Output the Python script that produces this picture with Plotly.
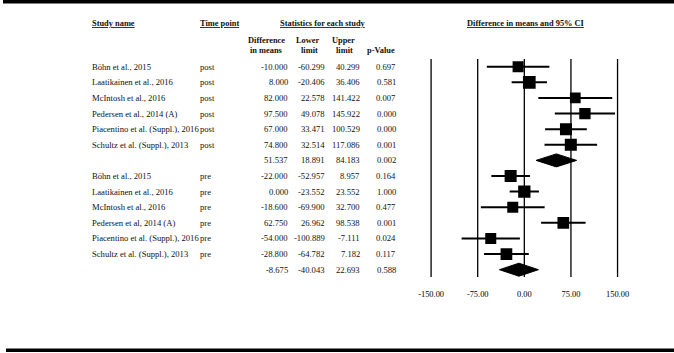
import plotly.graph_objects as go

# ---------------- data ----------------
post_names = ["Böhn et al., 2015", "Laatikainen et al., 2016", "McIntosh et al., 2016",
              "Pedersen et al., 2014 (A)", "Piacentino et al. (Suppl.), 2016",
              "Schultz et al. (Suppl.), 2013"]
post_diff = [-10.000, 8.000, 82.000, 97.500, 67.000, 74.800]
post_lower = [-60.299, -20.406, 22.578, 49.078, 33.471, 32.514]
post_upper = [40.299, 36.406, 141.422, 145.922, 100.529, 117.086]
post_p = [0.697, 0.581, 0.007, 0.000, 0.000, 0.001]
post_summary = [51.537, 18.891, 84.183, 0.002]  # diff, lower, upper, p

pre_names = ["Böhn et al., 2015", "Laatikainen et al., 2016", "McIntosh et al., 2016",
             "Pedersen et al, 2014 (A)", "Piacentino et al. (Suppl.), 2016",
             "Schultz et al. (Suppl.), 2013"]
pre_diff = [-22.000, 0.000, -18.600, 62.750, -54.000, -28.800]
pre_lower = [-52.957, -23.552, -69.900, 26.962, -100.889, -64.782]
pre_upper = [8.957, 23.552, 32.700, 98.538, -7.111, 7.182]
pre_p = [0.164, 1.000, 0.477, 0.001, 0.024, 0.117]
pre_summary = [-8.675, -40.043, 22.693, 0.588]

tick_vals = [-150, -75, 0, 75, 150]
tick_labels = ["-150.00", "-75.00", "0.00", "75.00", "150.00"]

# ---------------- style ----------------
W, H = 674, 353
post_sizes = [11, 12.7, 10.7, 11.3, 12, 12]
pre_sizes = [12, 12.3, 11, 11.7, 11, 11.7]
SERIF = "Liberation Serif, Times New Roman, serif"
FS = 8.6
HFS = 8.4

# pixel anchors for layout
row0_px, row_step = 66.7, 15.615
y_top = -row0_px / row_step
y_bot = y_top + H / row_step
k = (617.3 - 430.0) / 300.0  # px per unit
dom_l, dom_r = 420.0, 630.0
x_lo = -150 - (430.0 - dom_l) / k
x_hi = 150 + (dom_r - 617.3) / k

def px(x):
    return x / W

def py(y):
    return 1 - y / H

fig = go.Figure()

# rows
rows = []
for i in range(len(post_names)):
    rows.append((post_names[i], "post", post_diff[i], post_lower[i], post_upper[i], post_p[i]))
rows.append(("", "", *post_summary))
for i in range(len(pre_names)):
    rows.append((pre_names[i], "pre", pre_diff[i], pre_lower[i], pre_upper[i], pre_p[i]))
rows.append(("", "", *pre_summary))

annotations = []
def ann(text, x, y, xanchor, yref="y", size=FS):
    annotations.append(dict(
        text=text, x=x, y=y, xref="paper", yref=yref, xanchor=xanchor, yanchor="middle",
        showarrow=False, borderpad=0, borderwidth=0,
        font=dict(family=SERIF, size=size, color="#111")))

for r, (name, tp, d, lo, up, p) in enumerate(rows):
    if name:
        ann(name, px(89), r, "left")
        ann(tp, px(198), r, "left")
    ann(f"{d:.3f}", px(286.5), r, "right")
    ann(f"{lo:.3f}", px(323), r, "right")
    ann(f"{up:.3f}", px(358.5), r, "right")
    ann(f"{p:.3f}", px(394.5), r, "right")

# headers
ann("<b><u>Study name</u></b>", px(89), py(23.3), "left", "paper", HFS)
ann("<b><u>Time point</u></b>", px(198), py(23.3), "left", "paper", HFS)
ann("<b><u>Statistics for each study</u></b>", px(278), py(23.6), "left", "paper", HFS)
ann("<b><u>Difference in means and 95% CI</u></b>", px(466), py(23.3), "left", "paper", HFS)
ann("<b>Difference</b>", px(264.5), py(40.7), "center", "paper", HFS)
ann("<b>in means</b>", px(264.5), py(50.2), "center", "paper", HFS)
ann("<b>Lower</b>", px(306.5), py(40.7), "center", "paper", HFS)
ann("<b>limit</b>", px(307.5), py(50.2), "center", "paper", HFS)
ann("<b>Upper</b>", px(342), py(40.7), "center", "paper", HFS)
ann("<b>limit</b>", px(343), py(50.2), "center", "paper", HFS)
ann("<b>p-Value</b>", px(380), py(50.2), "center", "paper", HFS)

# study squares with CI lines
def add_studies(diff, lower, upper, sizes, offset):
    ys = [offset + i for i in range(len(diff))]
    fig.add_trace(go.Scatter(
        x=diff, y=ys, mode="markers",
        marker=dict(symbol="square", size=sizes, color="black", opacity=1, line=dict(width=0)),
        error_x=dict(type="data", symmetric=False,
                     array=[u - d for u, d in zip(upper, diff)],
                     arrayminus=[d - l for d, l in zip(diff, lower)],
                     width=0, thickness=2, color="black"),
        showlegend=False, hoverinfo="skip"))

add_studies(post_diff, post_lower, post_upper, post_sizes, 0)
add_studies(pre_diff, pre_lower, pre_upper, pre_sizes, 7)

# summary diamonds
HH = 6.5 / row_step
def add_diamond(summary, r):
    d, lo, up = summary[0], summary[1], summary[2]
    fig.add_trace(go.Scatter(
        x=[lo, d, up, d, lo], y=[r, r - HH, r, r + HH, r], mode="lines",
        fill="toself", fillcolor="black", line=dict(color="black", width=1),
        showlegend=False, hoverinfo="skip"))

add_diamond(post_summary, 6)
add_diamond(pre_summary, 13)

shapes = []
for tv in tick_vals:
    shapes.append(dict(type="line", xref="x", yref="y", x0=tv, x1=tv, y0=-0.5, y1=13.47,
                       line=dict(color="black", width=1.3), layer="below"))
# thick border rules
shapes.append(dict(type="rect", xref="paper", yref="paper", x0=0, x1=1, y0=py(3.5), y1=py(0),
                   fillcolor="black", line=dict(width=0)))
shapes.append(dict(type="rect", xref="paper", yref="paper", x0=px(3), x1=1, y0=py(352), y1=py(348.5),
                   fillcolor="black", line=dict(width=0)))

fig.update_layout(
    width=W, height=H, margin=dict(l=0, r=0, t=0, b=0),
    paper_bgcolor="white", plot_bgcolor="white",
    annotations=annotations, shapes=shapes,
    xaxis=dict(domain=[px(dom_l), px(dom_r)], range=[x_lo, x_hi], showgrid=False, zeroline=False,
               showline=False, ticks="", tickvals=tick_vals, ticktext=tick_labels,
               tickfont=dict(family=SERIF, size=HFS, color="black"),
               anchor="free", position=py(288), fixedrange=True),
    yaxis=dict(domain=[0, 1], range=[y_bot, y_top], visible=False, fixedrange=True),
)
fig.update_xaxes(tickprefix="<b>", ticksuffix="</b>")

fig.write_html("out.html", config={"displayModeBar": False},
               post_script="document.body.style.margin='0';document.body.style.overflow='hidden';")
